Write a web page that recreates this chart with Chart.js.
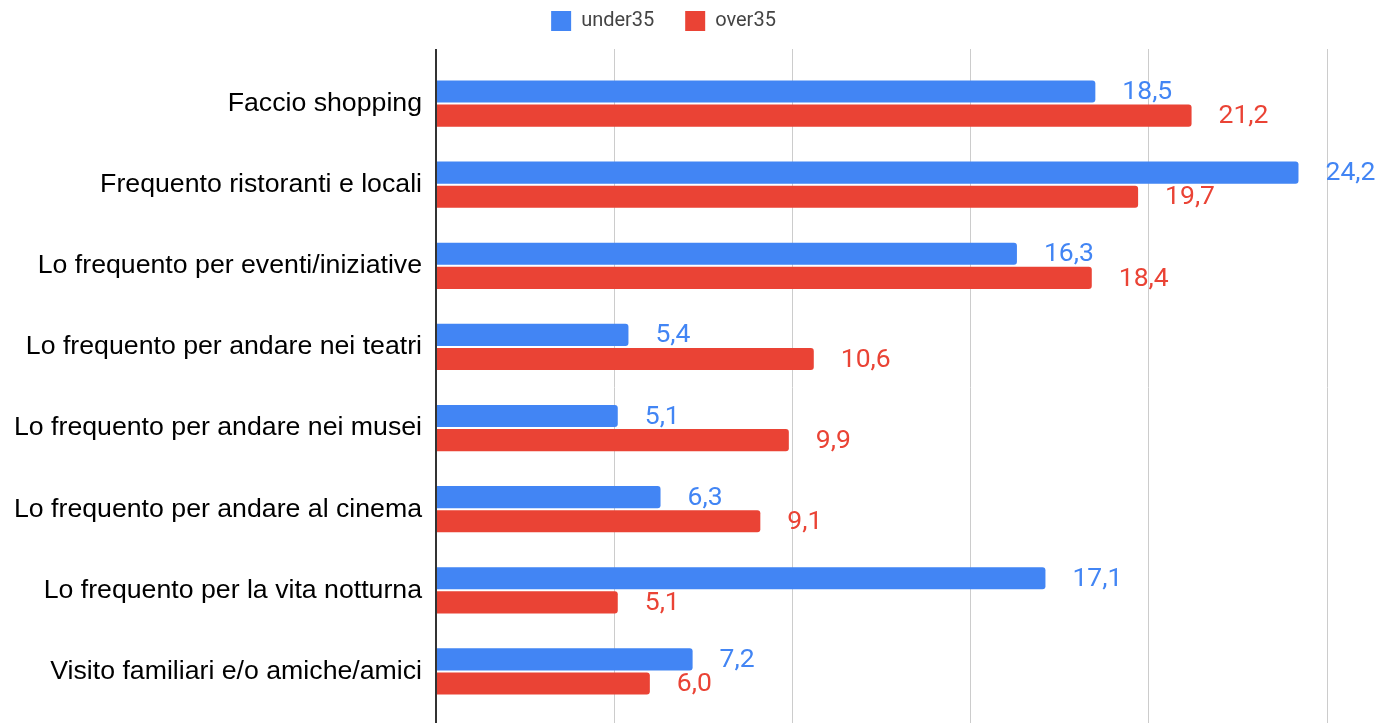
<!DOCTYPE html>
<html>
<head>
<meta charset="utf-8">
<script src="https://cdn.jsdelivr.net/npm/chart.js@4"></script>
<style>
  html, body { margin: 0; padding: 0; background: #fff; overflow: hidden; }
  #wrap { width: 1382px; height: 723px; }
</style>
</head>
<body>
<div id="wrap"><canvas id="graficoFrequenza"></canvas></div>
<script>
// Dati
const categorie = [
  'Faccio shopping',
  'Frequento ristoranti e locali',
  'Lo frequento per eventi/iniziative',
  'Lo frequento per andare nei teatri',
  'Lo frequento per andare nei musei',
  'Lo frequento per andare al cinema',
  'Lo frequento per la vita notturna',
  'Visito familiari e/o amiche/amici'
];
const under35 = [18.5, 24.2, 16.3, 5.4, 5.1, 6.3, 17.1, 7.2];
const over35 = [21.2, 19.7, 18.4, 10.6, 9.9, 9.1, 5.1, 6.0];
const tickX = [0, 5, 10, 15, 20, 25];

// etichette dei valori a destra delle barre
const etichetteValori = {
  id: 'etichetteValori',
  afterDatasetsDraw(chart) {
    const ctx = chart.ctx;
    ctx.save();
    ctx.font = '26.5px Roboto';
    ctx.textBaseline = 'middle';
    ctx.textAlign = 'left';
    chart.data.datasets.forEach((ds, i) => {
      chart.getDatasetMeta(i).data.forEach((bar, j) => {
        ctx.fillStyle = ds.backgroundColor;
        ctx.fillText(ds.data[j].toFixed(1).replace('.', ','), bar.x + 27, bar.y + 1);
      });
    });
    ctx.restore();
  }
};

const coloreGriglia = c => (c.tick && c.tick.value === 0) ? '#333333' : '#cccccc';
const spessoreGriglia = c => (c.tick && c.tick.value === 0) ? 2 : 1;

const ctxFreq = document.getElementById('graficoFrequenza').getContext('2d');
new Chart(ctxFreq, {
  type: 'bar',
  data: {
    labels: categorie,
    datasets: [{
      label: 'under35',
      data: under35,
      backgroundColor: '#4285f4',
      borderRadius: 3,
      borderSkipped: 'start',
      barPercentage: 0.92,
      categoryPercentage: 0.595
    }, {
      label: 'over35',
      data: over35,
      backgroundColor: '#ea4335',
      borderRadius: 3,
      borderSkipped: 'start',
      barPercentage: 0.92,
      categoryPercentage: 0.595
    }]
  },
  options: {
    indexAxis: 'y',
    responsive: true,
    maintainAspectRatio: false,
    animation: false,
    layout: { padding: { top: 0, right: 55, bottom: 0, left: 0 } },
    plugins: {
      tooltip: { enabled: false },
      legend: {
        position: 'top',
        labels: {
          boxWidth: 20,
          boxHeight: 20,
          padding: 11,
          color: '#444',
          font: { family: 'Roboto', size: 20 },
          generateLabels: chart => {
            const items = Chart.defaults.plugins.legend.labels.generateLabels(chart);
            items[0].text += '    ';
            return items;
          }
        }
      }
    },
    scales: {
      x: {
        position: 'bottom',
        min: tickX[0],
        max: tickX[tickX.length - 1],
        afterFit: s => { s.height = 11; },
        ticks: { display: false, stepSize: tickX[1] - tickX[0] },
        grid: { color: coloreGriglia, lineWidth: spessoreGriglia, tickLength: 11 },
        border: { display: false }
      },
      x2: {
        position: 'top',
        min: tickX[0],
        max: tickX[tickX.length - 1],
        afterFit: s => { s.height = 22; },
        ticks: { display: false, stepSize: tickX[1] - tickX[0] },
        grid: { color: coloreGriglia, lineWidth: spessoreGriglia, drawOnChartArea: false, tickLength: 14 },
        border: { display: false }
      },
      y: {
        afterFit: s => { s.width = 436; s.paddingTop = 0; s.paddingBottom = 0; },
        ticks: {
          color: '#000',
          padding: 14,
          font: { family: 'Liberation Sans', size: 26.7 }
        },
        grid: { display: false, drawTicks: false },
        border: { display: false }
      }
    }
  },
  plugins: [etichetteValori]
});
</script>
</body>
</html>
